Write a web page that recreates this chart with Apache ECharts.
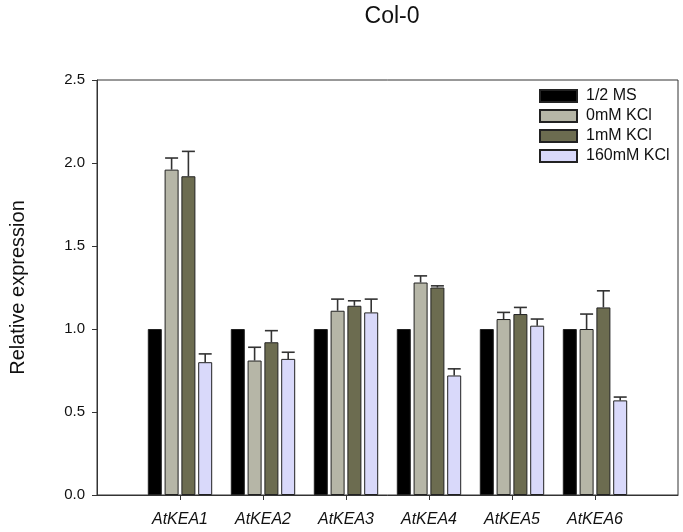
<!DOCTYPE html>
<html>
<head>
<meta charset="utf-8">
<script src="https://cdn.jsdelivr.net/npm/echarts@6/dist/echarts.min.js"></script>
<style>html,body{margin:0;padding:0;background:#fff}#c{width:683px;height:532px}</style>
</head>
<body>
<div id="c"></div>
<script>
// Categories (padded with empty slots at both ends)
var categories = ['', 'AtKEA1', 'AtKEA2', 'AtKEA3', 'AtKEA4', 'AtKEA5', 'AtKEA6', ''];
var seriesNames = ['1/2 MS', '0mM KCl', '1mM KCl', '160mM KCl'];
// Means
var msHalf   = [null, 1.00, 1.00, 1.00, 1.00, 1.00, 1.00, null];
var kcl0     = [null, 1.96, 0.81, 1.11, 1.28, 1.06, 1.00, null];
var kcl1     = [null, 1.92, 0.92, 1.14, 1.25, 1.09, 1.13, null];
var kcl160   = [null, 0.80, 0.82, 1.10, 0.72, 1.02, 0.57, null];
// Upper end of error bars (mean + SE)
var kcl0Up   = [null, 2.03, 0.89, 1.18, 1.32, 1.10, 1.09, null];
var kcl1Up   = [null, 2.07, 0.99, 1.17, 1.26, 1.13, 1.23, null];
var kcl160Up = [null, 0.85, 0.86, 1.18, 0.76, 1.06, 0.59, null];
var yTicks = ['0.0', '0.5', '1.0', '1.5', '2.0', '2.5'];

var colors = ['#000000', '#b6b6a7', '#6c6c50', '#d9d9fa'];
var BAR_W = 14, GAP = 0.2;
var FONT = 'Liberation Sans, Arial, sans-serif';

function barSeries(name, data, color) {
  return {
    name: name, type: 'bar', data: data, barWidth: BAR_W, barGap: '20%',
    itemStyle: { color: color, borderColor: '#222', borderWidth: 1 },
    emphasis: { disabled: true }
  };
}
function errSeries(name, means, ups, idx) {
  var data = [];
  for (var i = 0; i < means.length; i++) {
    if (means[i] != null) data.push([i, means[i], ups[i]]);
  }
  return {
    name: name + ' err', type: 'custom', z: 3, silent: true,
    data: data,
    renderItem: function (params, api) {
      var off = (idx - 1.5) * BAR_W * (1 + GAP);
      var p1 = api.coord([api.value(0), api.value(1)]);
      var p2 = api.coord([api.value(0), api.value(2)]);
      var x = p1[0] + off;
      var st = { stroke: '#333', lineWidth: 1.6 };
      return {
        type: 'group',
        children: [
          { type: 'line', shape: { x1: x, y1: p1[1], x2: x, y2: p2[1] }, style: st },
          { type: 'line', shape: { x1: x - 6.5, y1: p2[1], x2: x + 6.5, y2: p2[1] }, style: st }
        ]
      };
    }
  };
}

var chart = echarts.init(document.getElementById('c'), null, { renderer: 'canvas' });
chart.setOption({
  animation: false,
  textStyle: { fontFamily: FONT },
  title: {
    text: 'Col-0', left: 387, textAlign: 'center', top: 0,
    textStyle: { fontSize: 23, fontWeight: 'normal', color: '#111', fontFamily: FONT }
  },
  grid: { left: 97, right: 5, top: 80, bottom: 37, show: true, borderColor: '#333', borderWidth: 1 },
  legend: {
    data: seriesNames, orient: 'vertical', left: 534, top: 83, icon: 'rect',
    itemWidth: 37, itemHeight: 12, itemGap: 4,
    textStyle: { fontSize: 16, lineHeight: 14, color: '#111', padding: [0, 0, 0, 4] },
    selectedMode: false
  },
  xAxis: {
    type: 'category', data: categories, boundaryGap: false,
    axisLine: { lineStyle: { color: '#333' } },
    axisTick: { show: true, length: 5, lineStyle: { color: '#333' },
      interval: function (i) { return i > 0 && i < categories.length - 1; } },
    axisLabel: { interval: 0, fontSize: 16, fontStyle: 'italic', color: '#111', margin: 17 },
    splitLine: { show: false }
  },
  yAxis: {
    type: 'value', min: 0, max: 2.5, interval: 0.5,
    name: 'Relative expression', nameLocation: 'middle', nameGap: 69, nameRotate: 90,
    nameTextStyle: { fontSize: 20, color: '#111' },
    axisLine: { show: true, lineStyle: { color: '#333' } },
    axisTick: { show: true, length: 5, lineStyle: { color: '#333' } },
    axisLabel: { fontSize: 15, color: '#111', margin: 12,
      formatter: function (v) { return yTicks[Math.round(v / 0.5)]; } },
    splitLine: { show: false }
  },
  series: [
    barSeries(seriesNames[0], msHalf, colors[0]),
    barSeries(seriesNames[1], kcl0, colors[1]),
    barSeries(seriesNames[2], kcl1, colors[2]),
    barSeries(seriesNames[3], kcl160, colors[3]),
    errSeries(seriesNames[1], kcl0, kcl0Up, 1),
    errSeries(seriesNames[2], kcl1, kcl1Up, 2),
    errSeries(seriesNames[3], kcl160, kcl160Up, 3)
  ]
});
</script>
</body>
</html>
